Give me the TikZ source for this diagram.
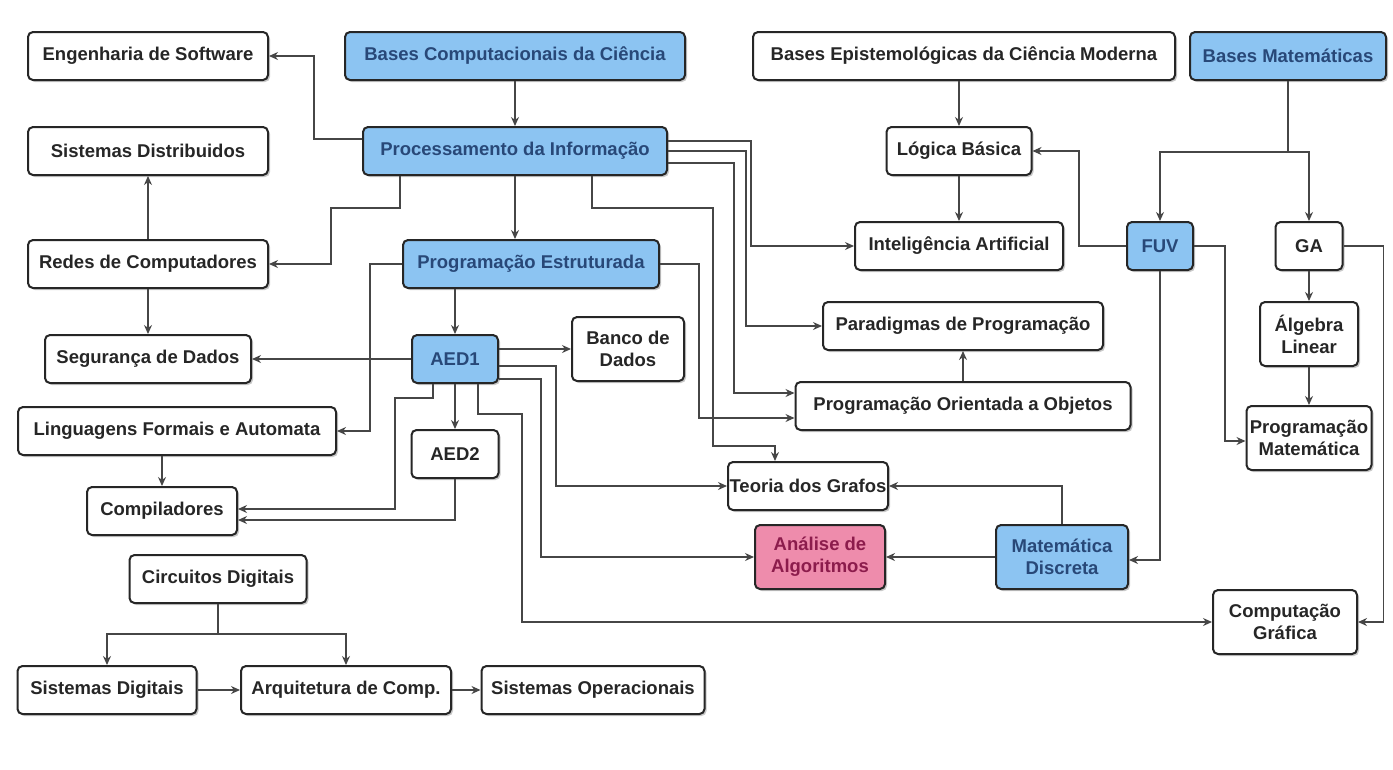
\documentclass[tikz,border=0pt]{standalone}
\usepackage{fontspec}
\setmainfont{Liberation Sans}
\usetikzlibrary{arrows.meta,calc,shadows}
\definecolor{hlblue}{RGB}{140,196,242}
\definecolor{hltext}{RGB}{40,72,120}
\definecolor{hlpink}{RGB}{238,140,172}
\definecolor{pktext}{RGB}{140,28,76}
\definecolor{wire}{RGB}{70,70,70}

\begin{document}
\begin{tikzpicture}[x=1pt,y=-1pt,
      font=\fontsize{18.5}{22}\selectfont\bfseries,
      box/.style={draw=black!85,line width=2pt,rounded corners=5pt,fill=white,
                  align=center,inner sep=1pt,minimum height=48pt,text=black!85,
                  drop shadow={shadow xshift=2pt,shadow yshift=-2pt,opacity=0.35,fill=black!60}},
      tall/.style={box,minimum height=64pt},
      base/.style={fill=hlblue,text=hltext},
      hot/.style={fill=hlpink,text=pktext},
      arr/.style={-{Stealth[length=9pt,width=8pt]},line width=1.3pt,draw=wire}]
    \fill[white] (0,0) rectangle (1393,769);
    \node[box,minimum width=240pt] (EngSw) at (148,56) {Engenharia de Software};
    \node[box,base,minimum width=340pt] (BCC) at (515,56) {Bases Computacionais da Ciência};
    \node[box,minimum width=422pt] (BECM) at (964,56) {Bases Epistemológicas da Ciência Moderna};
    \node[box,base,minimum width=196pt] (BM) at (1288,56) {Bases Matemáticas};
    \node[box,minimum width=240pt] (SisDist) at (148,151) {Sistemas Distribuidos};
    \node[box,base,minimum width=304pt] (PI) at (515,151) {Processamento da Informação};
    \node[box,minimum width=145pt] (LB) at (959,151) {Lógica Básica};
    \node[box,minimum width=240pt] (Redes) at (148,264) {Redes de Computadores};
    \node[box,base,minimum width=256pt] (PE) at (531,264) {Programação Estruturada};
    \node[box,minimum width=208pt] (IA) at (959,246) {Inteligência Artificial};
    \node[box,base,minimum width=66pt] (FUV) at (1160,246) {FUV};
    \node[box,minimum width=67pt] (GA) at (1309,246) {GA};
    \node[box,minimum width=206pt] (SD) at (148,359) {Segurança de Dados};
    \node[box,base,minimum width=86pt] (AED1) at (455,359) {AED1};
    \node[tall,minimum width=112pt] (BD) at (628,349) {Banco de\\Dados};
    \node[box,minimum width=280pt] (PP) at (963,326) {Paradigmas de Programação};
    \node[tall,minimum width=98pt] (AL) at (1309,334) {Álgebra\\Linear};
    \node[box,minimum width=318pt] (LFA) at (177,431) {Linguagens Formais e Automata};
    \node[box,minimum width=87pt] (AED2) at (455,454) {AED2};
    \node[box,minimum width=335pt] (POO) at (963,406) {Programação Orientada a Objetos};
    \node[tall,minimum width=125pt] (PM) at (1309,438) {Programação\\Matemática};
    \node[box,minimum width=150pt] (Comp) at (162,511) {Compiladores};
    \node[box,minimum width=160pt] (TG) at (808,486) {Teoria dos Grafos};
    \node[tall,hot,minimum width=130pt] (AA) at (820,557) {Análise de\\Algoritmos};
    \node[tall,base,minimum width=132pt] (MD) at (1062,557) {Matemática\\Discreta};
    \node[box,minimum width=177pt] (CD) at (218,579) {Circuitos Digitais};
    \node[tall,minimum width=144pt] (CG) at (1285,622) {Computação\\Gráfica};
    \node[box,minimum width=179pt] (SDig) at (107,690) {Sistemas Digitais};
    \node[box,minimum width=210pt] (AC) at (346,690) {Arquitetura de Comp.};
    \node[box,minimum width=223pt] (SO) at (593,690) {Sistemas Operacionais};
    \draw[arr] (BCC)--(PI);
    \draw[arr] ([yshift=12pt]PI.west)--++(-48,0)|-(EngSw);
    \draw[arr] ([xshift=-115pt]PI.south)--++(0,32)--++(-69,0)|-(Redes);
    \draw[arr] (PI)--(PI|-PE.north);
    \draw[arr] ([yshift=10pt]PI.east)--++(83,0)|-(IA);
    \draw[arr] (PI.east)--++(78,0)|-(PP);
    \draw[arr] ([yshift=-12pt]PI.east)--++(66,0)|-([yshift=13pt]POO.west);
    \draw[arr] ([xshift=77pt]PI.south)--++(0,32)--++(121,0)--++(0,238)-|([xshift=-33pt]TG.north);
    \draw[arr] (PE.west)--++(-32,0)|-(LFA);
    \draw[arr] (PE.south-|AED1)--(AED1);
    \draw[arr] (PE.east)--++(39,0)|-([yshift=-12pt]POO.west);
    \draw[arr] (AED1)--(SD); \draw[arr] ([yshift=10pt]AED1.east)--(BD); \draw[arr] (AED1)--(AED2);
    \draw[arr] ([yshift=-7pt]AED1.east)--++(57,0)|-(TG);
    \draw[arr] ([yshift=-20pt]AED1.east)--++(42,0)|-(AA);
    \draw[arr] ([xshift=23pt]AED1.south)--++(0,30)--++(44,0)|-(CG);
    \draw[arr] ([xshift=-22pt]AED1.south)--++(0,14)--++(-38,0)|-([yshift=2pt]Comp.east);
    \draw[arr] (AED2)|-([yshift=-9pt]Comp.east);
    \draw[arr] (LFA.south-|Comp)--(Comp);
    \draw[arr] (Redes)--(SisDist); \draw[arr] (Redes)--(SD);
    \draw[arr] (BECM.south-|LB)--(LB); \draw[arr] (LB)--(IA);
    \draw[arr] (FUV.west)--++(-47,0)|-(LB);
    \draw[arr] (BM.south)--++(0,71)-|(FUV); \draw[arr] (BM.south)--++(0,71)-|(GA);
    \draw[arr] (FUV)|-([yshift=-3pt]MD.east);
    \draw[arr] (FUV.east)--++(31,0)|-([yshift=-3pt]PM.west);
    \draw[arr] (GA)--(AL); \draw[arr] (AL)--(PM);
    \draw[arr] (GA.east)--++(40,0)|-(CG);
    \draw[arr] (MD)|-(TG); \draw[arr] (MD)--(AA);
    \draw[arr] (POO)--(PP);
    \draw[arr] (CD.south)--++(0,30)-|(SDig); \draw[arr] (CD.south)--++(0,30)-|(AC);
    \draw[arr] (SDig)--(AC); \draw[arr] (AC)--(SO);
  \end{tikzpicture}
\end{document}
